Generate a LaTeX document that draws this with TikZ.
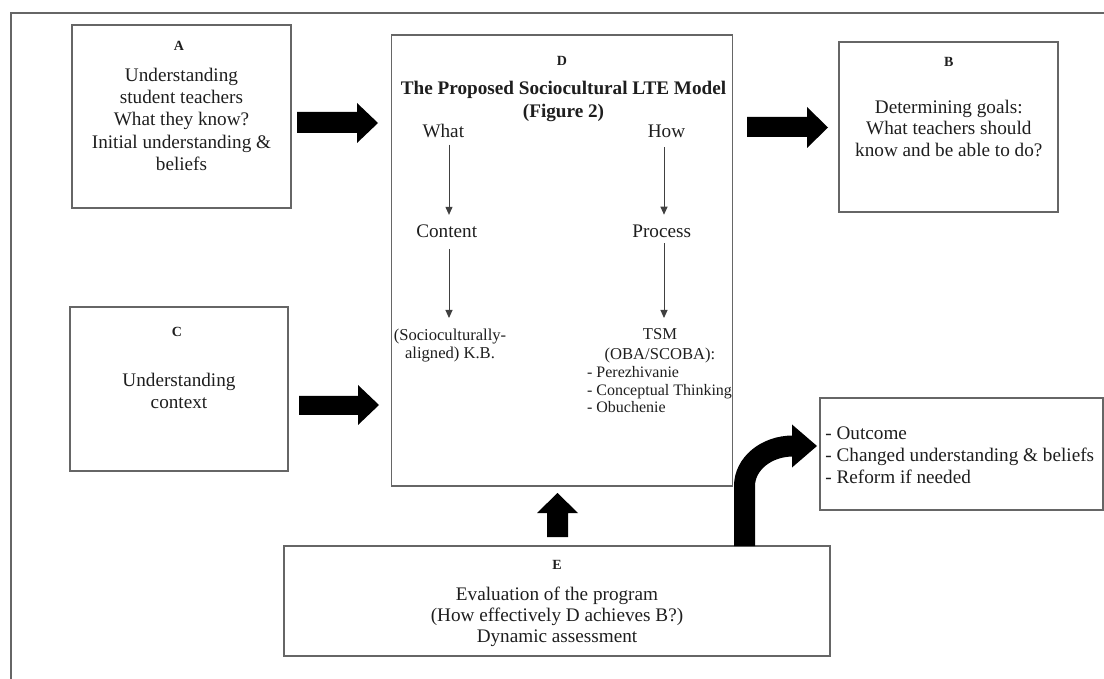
\documentclass[tikz,border=0pt]{standalone}
\usepackage{fontspec}
\setmainfont{Liberation Serif}
\usetikzlibrary{arrows.meta}
\definecolor{boxgray}{HTML}{666666}
\definecolor{txt}{HTML}{1E1E1E}
\tikzset{
  box/.style={draw=boxgray, line width=0.75pt, rectangle, inner sep=0pt},
  lab/.style={font=\fontsize{7}{8}\selectfont\bfseries, inner sep=0pt, anchor=base, text=txt},
  txtc/.style={align=center, inner sep=0pt, anchor=north, text=txt, font=\fontsize{9.6}{11}\selectfont},
  word/.style={inner sep=0pt, anchor=base, text=txt, font=\fontsize{9.6}{11}\selectfont},
  tarr/.style={draw=black!75, line width=0.5pt, -{Triangle[length=4pt,width=3.5pt]}},
  blk/.style={fill=black},
}
\begin{document}
\begin{tikzpicture}[x=0.5pt,y=-0.5pt]
\useasboundingbox (0,0) rectangle (1104,679);
% outer frame
\draw[draw=boxgray, line width=0.75pt] (1104,13) -- (11,13) -- (11,679);

% boxes
\node[box, minimum width=109.5pt, minimum height=91.5pt] (A) at (181.5,116.5) {};
\node[box, minimum width=109.5pt, minimum height=85pt] (B) at (948.5,127) {};
\node[box, minimum width=109pt, minimum height=82pt] (C) at (179,389) {};
\node[box, minimum width=170.5pt, minimum height=225.5pt] (D) at (562,260.5) {};
\node[box, minimum width=273pt, minimum height=55pt] (E) at (557,601) {};
\node[box, minimum width=141.5pt, minimum height=56pt] (F) at (961.5,454) {};

% A
\node[lab] (Alab) at (179,51) {A};
\node[txtc, font=\fontsize{9.6}{11.15}\selectfont] (Atxt) at (181.5,67.5) {Understanding\\student teachers\\What they know?\\Initial understanding \&\\beliefs};
% B
\node[lab] (Blab) at (948.7,67) {B};
\node[txtc, font=\fontsize{9.6}{10.75}\selectfont] (Btxt) at (948.8,99.3) {Determining goals:\\What teachers should\\know and be able to do?};
% C
\node[lab] (Clab) at (177,336.5) {C};
\node[txtc, font=\fontsize{9.6}{11}\selectfont] (Ctxt) at (179,372.4) {Understanding\\context};
% D
\node[lab] (Dlab) at (562,65.5) {D};
\node[txtc, font=\fontsize{9.6}{11.5}\selectfont\bfseries] (Dtitle) at (563.5,80.4) {The Proposed Sociocultural LTE Model\\(Figure 2)};
\node[word] (What) at (443.3,137.3) {What};
\node[word] (How) at (666.5,137.3) {How};
\node[word] (Content) at (446.7,238) {Content};
\node[word] (Process) at (661.7,238) {Process};
\node[txtc, font=\fontsize{8.3}{9}\selectfont] (KB) at (450,328.5) {(Socioculturally-\\aligned) K.B.};
\node[txtc, font=\fontsize{8.3}{10}\selectfont] (TSM) at (660,328.5) {TSM\\(OBA/SCOBA):};
\node[txtc, align=left, anchor=north west, font=\fontsize{8}{8.75}\selectfont] (List) at (586.7,366) {- Perezhivanie\\- Conceptual Thinking\\- Obuchenie};

\coordinate (colL) at (449,0);
\coordinate (colR) at (664,0);
\draw[tarr, shorten <=3.35pt, shorten >=5pt] (What.south -| colL) -- (Content.north -| colL);
\draw[tarr, shorten <=4.7pt, shorten >=5.15pt] (How.south -| colR) -- (Process.north -| colR);
\draw[tarr, shorten <=5.15pt, shorten >=5.25pt] (Content.south -| colL) -- (KB.north -| colL);
\draw[tarr, shorten <=2.25pt, shorten >=5.25pt] (Process.south -| colR) -- (TSM.north -| colR);

% E
\node[lab] (Elab) at (557,569.5) {E};
\node[txtc, font=\fontsize{9.6}{10.5}\selectfont] (Etxt) at (557,586.3) {Evaluation of the program\\(How effectively D achieves B?)\\Dynamic assessment};

% Outcome
\node[txtc, align=left, anchor=north west, font=\fontsize{9.6}{11}\selectfont] (Ftxt) at (825,426.3) {- Outcome\\- Changed understanding \& beliefs\\- Reform if needed};

% block arrows
\fill[blk] (297,112) -- (357,112) -- (357,103) -- (378,123) -- (357,143) -- (357,133) -- (297,133) -- cycle;
\fill[blk] (299,396) -- (358,396) -- (358,385) -- (379,405) -- (358,425) -- (358,415) -- (299,415) -- cycle;
\fill[blk] (747,117) -- (807,117) -- (807,107) -- (828,127.5) -- (807,148) -- (807,137) -- (747,137) -- cycle;
\fill[blk] (547,537) -- (547,513) -- (537,513) -- (557.5,493) -- (578,513) -- (568,513) -- (568,537) -- cycle;

% curved arrow E -> outcome
\draw[line width=10.5pt, black] (744.5,546) -- (744.5,486) .. controls (744.5,464) and (766,446) .. (793,446);
\fill[blk] (792,424.5) -- (817,446) -- (792,467.5) -- cycle;
\end{tikzpicture}
\end{document}
